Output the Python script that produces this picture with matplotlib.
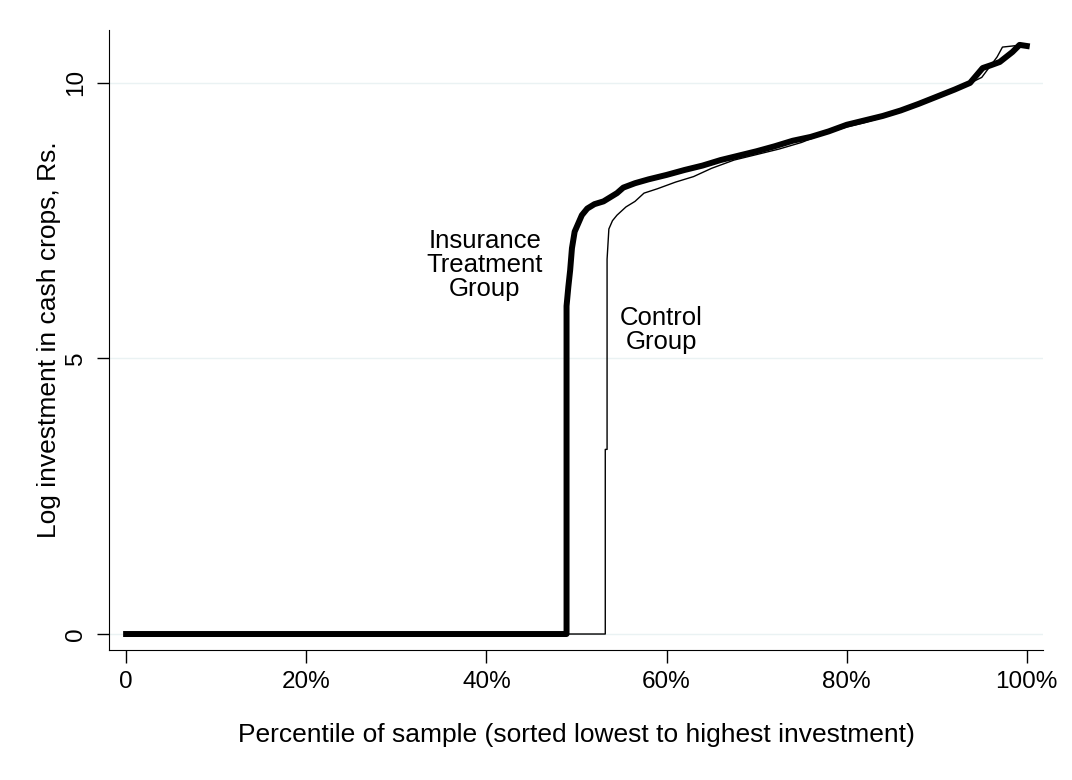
import matplotlib.pyplot as plt
from matplotlib.ticker import FuncFormatter

plt.rcParams['font.family'] = ['Liberation Sans', 'DejaVu Sans']

# treatment group (percentile, log investment)
treat_x = [0, 48.9, 48.9, 49.1, 49.3, 49.5, 49.8, 50.2, 50.6, 51.2, 52.0, 53.0, 53.8, 54.5, 55.2,
           56.5, 58, 60, 62, 64, 66, 68, 70, 72, 74, 76, 78, 80, 82, 84, 86, 88, 90, 92, 93.7,
           95.1, 96, 97, 98.4, 99.2, 100]
treat_y = [0, 0, 5.95, 6.3, 6.6, 7.0, 7.3, 7.45, 7.6, 7.72, 7.8, 7.85, 7.93, 8.0, 8.1,
           8.18, 8.25, 8.33, 8.42, 8.5, 8.6, 8.68, 8.76, 8.85, 8.95, 9.02, 9.12, 9.24, 9.32, 9.4,
           9.5, 9.62, 9.75, 9.88, 10.0, 10.27, 10.32, 10.38, 10.56, 10.69, 10.67]

# control group
ctrl_x = [0, 53.2, 53.2, 53.4, 53.4, 53.6, 54.0, 54.5, 55.5, 56.5, 57.5, 59, 61, 63, 65, 67.5,
          70, 72.5, 75, 77, 79, 80, 82, 85, 88, 90, 93.5, 95, 96.7, 97.3, 99, 100]
ctrl_y = [0, 0, 3.35, 3.35, 6.8, 7.35, 7.5, 7.6, 7.75, 7.85, 8.0, 8.08, 8.2, 8.3, 8.45, 8.6,
          8.7, 8.8, 8.92, 9.05, 9.15, 9.2, 9.28, 9.42, 9.6, 9.72, 9.98, 10.1, 10.47, 10.65, 10.68, 10.65]

xticks = [0, 20, 40, 60, 80, 100]
yticks = [0, 5, 10]

fig = plt.figure(figsize=(10.72, 7.8), dpi=100)
ax = fig.add_axes([109/1072, 130/780, 934/1072, 620/780])

for y in yticks:
    ax.axhline(y, color='#eaf2f3', lw=1, zorder=0)

ax.plot(ctrl_x, ctrl_y, color='black', lw=1.0, zorder=2)
ax.plot(treat_x, treat_y, color='black', lw=4.3, zorder=3)

ax.text(39.8, 6.7, 'Insurance\nTreatment\nGroup', fontsize=18.5, ha='center', va='center',
        linespacing=1.0)
ax.text(59.4, 5.52, 'Control\nGroup', fontsize=18.5, ha='center', va='center',
        linespacing=1.0)

ax.set_xlim(-1.9, 101.8)
ax.set_ylim(-0.29, 10.96)
ax.set_xticks(xticks)
ax.xaxis.set_major_formatter(FuncFormatter(lambda v, p: '0' if v == 0 else '%d%%' % v))
ax.set_yticks(yticks)
for lab in ax.get_yticklabels():
    lab.set_rotation(90)
    lab.set_va('center')
ax.tick_params(labelsize=17.5, length=9, width=1)
ax.tick_params(axis='x', pad=6)
ax.tick_params(axis='y', pad=7)
ax.spines['top'].set_visible(False)
ax.spines['right'].set_visible(False)
ax.set_xlabel('Percentile of sample (sorted lowest to highest investment)', fontsize=19)
ax.set_ylabel('Log investment in cash crops, Rs.', fontsize=19)
ax.xaxis.set_label_coords(0.5, -0.117)
ax.yaxis.set_label_coords(-0.051, 0.5)

fig.savefig('out.png', dpi=100)
